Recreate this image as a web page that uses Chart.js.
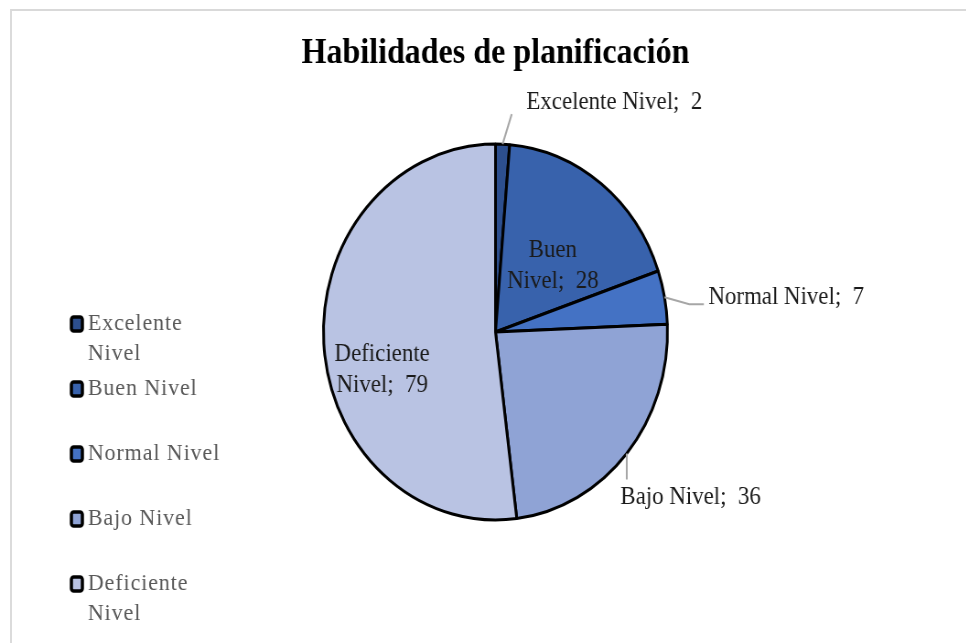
<!DOCTYPE html>
<html>
<head>
<meta charset="utf-8">
<script src="https://cdn.jsdelivr.net/npm/chart.js@4.4.0/dist/chart.umd.min.js"></script>
<style>
  html, body { margin: 0; padding: 0; background: #fff; overflow: hidden; }
  #wrap { width: 966px; height: 643px; overflow: hidden; position: relative; }
  /* the original picture is squeezed horizontally, so draw wide and squeeze */
  #chart { position: absolute; left: 0; top: 0; transform: scaleX(0.915); transform-origin: 0 0; }
</style>
</head>
<body>
<div id="wrap"><canvas id="chart" width="1056" height="643"></canvas></div>
<script>
const categories = ["Excelente Nivel", "Buen Nivel", "Normal Nivel", "Bajo Nivel", "Deficiente Nivel"];
const counts = [2, 28, 7, 36, 79];
const sliceColors = ["#2D4F8E", "#3862AC", "#4472C4", "#8FA3D5", "#B9C3E3"];

// where each data label goes, relative to its slice
const labelPlacement = [
  { inside: false, r: 1, leader: [[10, -30]], text: [16, -12] },
  { inside: true, r: 0.5, text: [5, 8] },
  { inside: false, r: 1, leader: [[27, 7], [16, 0]], text: [5, -7] },
  { inside: false, r: 1, leader: [[0, 26]], text: [-7, 18] },
  { inside: true, r: 0.66, text: [0, 30] },
];

const serif = "'Liberation Serif', 'Times New Roman', serif";

const framePlugin = {
  id: "frame",
  beforeDraw(chart) {
    const ctx = chart.ctx;
    ctx.save();
    ctx.strokeStyle = "#d9d9d9";
    ctx.lineWidth = 2;
    ctx.beginPath();
    ctx.moveTo(12, 660);
    ctx.lineTo(12, 10);
    ctx.lineTo(1070, 10);
    ctx.stroke();
    ctx.restore();
  },
};

const labelPlugin = {
  id: "sliceLabels",
  afterDatasetsDraw(chart) {
    const ctx = chart.ctx;
    const meta = chart.getDatasetMeta(0);
    ctx.save();
    ctx.font = "25px " + serif;
    ctx.textBaseline = "middle";
    meta.data.forEach((arc, i) => {
      const p = labelPlacement[i];
      const { x, y, startAngle, endAngle, outerRadius } = arc.getProps(["x", "y", "startAngle", "endAngle", "outerRadius"]);
      const mid = (startAngle + endAngle) / 2;
      let px = x + Math.cos(mid) * outerRadius * p.r;
      let py = y + Math.sin(mid) * outerRadius * p.r;
      const label = chart.data.labels[i];
      const value = chart.data.datasets[0].data[i];
      let lines;
      if (p.inside) {
        const words = label.split(" ");
        lines = [words[0], words.slice(1).join(" ") + ";  " + value];
        ctx.textAlign = "center";
      } else {
        lines = [label + ";  " + value];
        ctx.textAlign = "left";
        ctx.strokeStyle = "#a6a6a6";
        ctx.lineWidth = 2;
        ctx.beginPath();
        ctx.moveTo(px, py);
        p.leader.forEach(([dx, dy]) => {
          px += dx;
          py += dy;
          ctx.lineTo(px, py);
        });
        ctx.stroke();
      }
      ctx.fillStyle = "#1a1a1a";
      const tx = px + p.text[0];
      const ty = py + p.text[1];
      const lh = 31;
      lines.forEach((line, k) => {
        ctx.fillText(line, tx, ty + (k - (lines.length - 1) / 2) * lh);
      });
    });
    ctx.restore();
  },
};

const legendPlugin = {
  id: "sideLegend",
  afterDraw(chart) {
    const ctx = chart.ctx;
    const ds = chart.data.datasets[0];
    ctx.save();
    ctx.font = "24px " + serif;
    ctx.letterSpacing = "1px";
    ctx.textBaseline = "middle";
    ctx.textAlign = "left";
    let rowY = 324;
    chart.data.labels.forEach((label, i) => {
      // wrap the text when it is too wide for the legend column
      let lines = [label];
      if (ctx.measureText(label).width > 155) {
        const words = label.split(" ");
        lines = [words.slice(0, -1).join(" "), words[words.length - 1]];
      }
      ctx.fillStyle = ds.backgroundColor[i];
      ctx.strokeStyle = "#000";
      ctx.lineWidth = 3.5;
      ctx.beginPath();
      ctx.roundRect(78, rowY - 7, 12, 14, 2.5);
      ctx.fill();
      ctx.stroke();
      ctx.fillStyle = "#595959";
      lines.forEach((line, k) => ctx.fillText(line, 96, rowY + k * 30));
      rowY += 65;
    });
    ctx.restore();
  },
};

new Chart(document.getElementById("chart"), {
  type: "pie",
  data: {
    labels: categories,
    datasets: [
      {
        data: counts,
        backgroundColor: sliceColors,
        borderColor: "#000",
        borderWidth: 3,
        radius: 188,
      },
    ],
  },
  options: {
    responsive: false,
    animation: false,
    layout: { padding: { left: 60, right: 33, top: 0, bottom: 54 } },
    plugins: {
      legend: { display: false },
      tooltip: { enabled: false },
      title: {
        display: true,
        text: "Habilidades de planificación",
        color: "#000",
        font: { family: serif, size: 35, weight: "bold" },
        padding: { top: 33, bottom: 0 },
      },
    },
  },
  plugins: [framePlugin, labelPlugin, legendPlugin],
});
</script>
</body>
</html>
